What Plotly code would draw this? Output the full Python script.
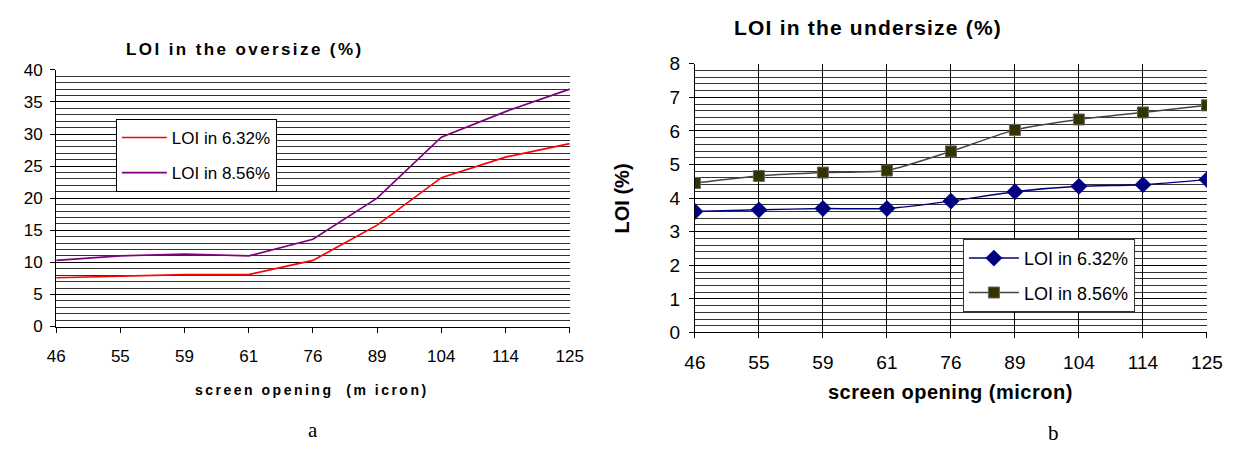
import plotly.graph_objects as go

sizes = ["46", "55", "59", "61", "76", "89", "104", "114", "125"]
over_632 = [7.6, 7.8, 8.1, 8.1, 10.3, 15.8, 23.2, 26.4, 28.5]
over_856 = [10.3, 11.0, 11.3, 11.0, 13.6, 20.0, 29.5, 33.5, 37.0]
under_632 = [3.6, 3.65, 3.69, 3.69, 3.91, 4.19, 4.35, 4.4, 4.55]
under_856 = [4.45, 4.66, 4.76, 4.82, 5.39, 6.03, 6.34, 6.55, 6.76]
names = ["LOI in 6.32%", "LOI in 8.56%"]

# page body has an 8px margin; the figure is shrunk and shifted to compensate
OFF = 8
W, H = 1243 - OFF, 455 - 2 * OFF
FONT = "Liberation Sans, Arial, sans-serif"
SERIF = "Liberation Serif, Times New Roman, serif"


def px(v):
    return (v - OFF) / W


def py(v):
    return 1 - (v - OFF) / H


def spaced(t, s):
    return '<span style="letter-spacing:%spx">%s</span>' % (s, t)


fig = go.Figure()
fig.add_trace(go.Scatter(x=sizes, y=over_632, name=names[0], mode="lines",
                         line=dict(color="#FF0000", width=1.7),
                         xaxis="x", yaxis="y", legend="legend", legendgroup="a1"))
fig.add_trace(go.Scatter(x=sizes, y=over_856, name=names[1], mode="lines",
                         line=dict(color="#800080", width=1.7),
                         xaxis="x", yaxis="y", legend="legend", legendgroup="a2"))
fig.add_trace(go.Scatter(x=sizes, y=under_632, name=names[0], mode="lines+markers",
                         line=dict(color="#000080", width=1.5, shape="spline", smoothing=0.6),
                         marker=dict(symbol="diamond", size=13, color="#000080"),
                         xaxis="x2", yaxis="y2", legend="legend2", legendgroup="b1"))
fig.add_trace(go.Scatter(x=sizes, y=under_856, name=names[1], mode="lines+markers",
                         line=dict(color="#444444", width=1.5, shape="spline", smoothing=0.6),
                         marker=dict(symbol="square", size=11, color="#333300",
                                     line=dict(color="#666666", width=1)),
                         xaxis="x2", yaxis="y2", legend="legend2", legendgroup="b2"))

axis_common = dict(showline=True, linecolor="black", linewidth=1, ticks="outside",
                   ticklen=5, tickcolor="black", zeroline=False)

fig.update_layout(
    width=W, height=H,
    margin=dict(l=0, r=0, t=0, b=0),
    paper_bgcolor="white", plot_bgcolor="white",
    font=dict(family=FONT, color="black"),
    xaxis=dict(domain=[px(46), px(571)], type="category", range=[0, 8],
               showgrid=False, anchor="y", tickfont=dict(size=17),
               ticklabelstandoff=9, **axis_common),
    yaxis=dict(domain=[py(332), py(62.5)], range=[0, 40], dtick=5,
               showgrid=True, gridcolor="black", gridwidth=1,
               minor=dict(dtick=1, showgrid=True, gridcolor="#333333", gridwidth=1),
               anchor="x", tickfont=dict(size=17), ticklabelstandoff=4, **axis_common),
    xaxis2=dict(domain=[px(699), px(1222.5)], type="category", range=[0, 8],
                showgrid=True, gridcolor="black", gridwidth=1,
                anchor="y2", tickfont=dict(size=19), ticklabelstandoff=8, **axis_common),
    yaxis2=dict(domain=[py(338.3), py(56)], range=[0, 8], dtick=1,
                showgrid=True, gridcolor="black", gridwidth=1,
                minor=dict(dtick=0.2, showgrid=True, gridcolor="#333333", gridwidth=1),
                anchor="x2", tickfont=dict(size=19), ticklabelstandoff=5, **axis_common),
    legend=dict(x=px(107), y=py(114), xanchor="left", yanchor="top",
                bgcolor="white", bordercolor="black", borderwidth=1,
                font=dict(size=17), itemwidth=45, tracegroupgap=10),
    legend2=dict(x=px(973), y=py(240), xanchor="left", yanchor="top",
                 bgcolor="white", bordercolor="#333333", borderwidth=1,
                 font=dict(size=18), itemwidth=50, tracegroupgap=8),
    showlegend=True,
)

ann = [
    dict(text='<b>' + spaced("LOI in the oversize (%)", 2.4) + '</b>',
         x=px(239), y=py(41), font=dict(size=17)),
    dict(text='<b>' + spaced("LOI in the undersize (%)", 1.2) + '</b>',
         x=px(876), y=py(18), font=dict(size=21)),
    dict(text='<b>' + spaced("screen opening  (m icron)", 2.5) + '</b>',
         x=px(308), y=py(399), font=dict(size=14)),
    dict(text='<b>' + spaced("screen opening (micron)", 0.5) + '</b>',
         x=px(960), y=py(401), font=dict(size=20)),
    dict(text='<b>LOI (%)</b>', x=px(624), y=py(198), font=dict(size=20), textangle=-90),
    dict(text='a', x=px(309), y=py(441), font=dict(size=21, family=SERIF)),
    dict(text='b', x=px(1066), y=py(444), font=dict(size=21, family=SERIF)),
]
for a in ann:
    fig.add_annotation(xref="paper", yref="paper", showarrow=False,
                       xanchor="center", yanchor="middle", **a)

fig.write_html("out.html")
